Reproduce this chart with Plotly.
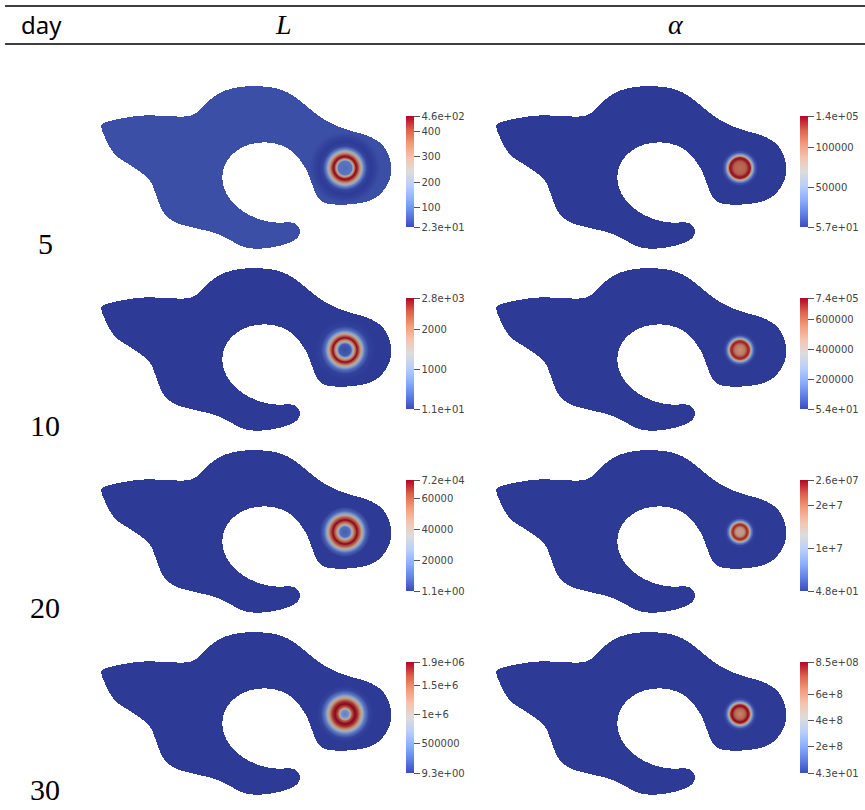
import numpy as np
import plotly.graph_objects as go

# ---------------- data ----------------
row_labels = ["5", "10", "20", "30"]
col_titles = ["<i>L</i>", "<i>α</i>"]

# colour ranges per panel (row-major: L, alpha)
vmins = [23, 57, 11, 54, 1.1, 48, 9.3, 43]
vmaxs = [460, 1.4e5, 2800, 7.4e5, 7.2e4, 2.6e7, 1.9e6, 8.5e8]
tick_vals = [
    [23, 100, 200, 300, 400, 460],
    [57, 50000, 100000, 1.4e5],
    [11, 1000, 2000, 2800],
    [54, 200000, 400000, 600000, 7.4e5],
    [1.1, 20000, 40000, 60000, 7.2e4],
    [48, 1e7, 2e7, 2.6e7],
    [9.3, 500000, 1e6, 1.5e6, 1.9e6],
    [43, 2e8, 4e8, 6e8, 8.5e8],
]
tick_text = [
    ["2.3e+01", "100", "200", "300", "400", "4.6e+02"],
    ["5.7e+01", "50000", "100000", "1.4e+05"],
    ["1.1e+01", "1000", "2000", "2.8e+03"],
    ["5.4e+01", "200000", "400000", "600000", "7.4e+05"],
    ["1.1e+00", "20000", "40000", "60000", "7.2e+04"],
    ["4.8e+01", "1e+7", "2e+7", "2.6e+07"],
    ["9.3e+00", "500000", "1e+6", "1.5e+6", "1.9e+06"],
    ["4.3e+01", "2e+8", "4e+8", "6e+8", "8.5e+08"],
]

# radial profiles (radius in px, fraction of colour range)
prof_r = [
    [0, 7, 9, 11, 13, 16, 19, 22, 26, 30, 36, 2000],
    [0, 6, 9, 10.5, 12, 13.5, 15.5, 18, 2000],
    [0, 6, 9, 12, 14, 17, 20, 24, 30, 2000],
    [0, 5, 8, 9.5, 11, 12.5, 14.5, 17, 2000],
    [0, 5, 9, 12, 15, 18, 21, 25, 2000],
    [0, 4, 7, 8.5, 10, 11.5, 13.5, 16, 2000],
    [0, 4, 7, 10, 13, 17, 20, 24, 28, 2000],
    [0, 5, 8, 9.5, 11, 12.5, 14.5, 17, 2000],
]
prof_t = [
    [0.15, 0.18, 0.7, 1.0, 0.9, 0.55, 0.2, 0.03, 0.0, 0.02, 0.06, 0.06],
    [0.78, 0.82, 0.97, 0.95, 0.6, 0.3, 0.08, 0.0, 0.0],
    [0.05, 0.1, 0.6, 1.0, 0.85, 0.45, 0.15, 0.02, 0.0, 0.0],
    [0.65, 0.75, 0.95, 0.9, 0.55, 0.25, 0.05, 0.0, 0.0],
    [0.1, 0.15, 0.75, 1.0, 0.8, 0.4, 0.12, 0.0, 0.0],
    [0.55, 0.65, 0.95, 0.85, 0.5, 0.2, 0.03, 0.0, 0.0],
    [0.2, 0.3, 0.85, 1.0, 0.9, 0.5, 0.2, 0.03, 0.0, 0.0],
    [0.7, 0.8, 1.0, 0.9, 0.55, 0.25, 0.05, 0.0, 0.0],
]

# domain outline (pixels within a panel)
outline_x = [100, 105, 123, 143, 167, 187, 197, 207, 220, 237, 253, 273, 290, 303, 317, 330, 347,
             367, 380, 388, 392, 390, 383, 373, 357, 337, 323, 317, 313, 307, 298, 287, 270, 253,
             240, 228, 222, 223, 230, 243, 260, 277, 290, 297, 301, 297, 287, 270, 253, 240, 227,
             213, 190, 173, 163, 157, 152, 145, 130, 117, 110, 105, 100]
outline_y = [125, 122, 118, 115, 116, 117, 113, 102, 92, 87, 86, 87, 93, 103, 115, 123, 130,
             135, 142, 152, 167, 180, 192, 200, 204, 205, 203, 197, 187, 170, 157, 147, 142, 143,
             148, 158, 172, 187, 200, 212, 220, 223, 222, 224, 232, 239, 244, 248, 249, 246, 238,
             232, 227, 222, 213, 198, 183, 175, 165, 157, 148, 138, 130]
ring_center = (345, 168)

# ---------------- helpers ----------------
cw = [(0.0, (58, 76, 192)), (0.125, (98, 130, 234)), (0.25, (141, 176, 254)),
      (0.375, (184, 208, 249)), (0.5, (221, 220, 219)), (0.625, (245, 196, 173)),
      (0.75, (244, 154, 123)), (0.875, (222, 96, 77)), (1.0, (180, 4, 38))]


def scale(f):
    return [[p, "rgb(%d,%d,%d)" % tuple(int(round(c * f)) for c in col)] for p, col in cw]


cs_bar = scale(1.0)
cs_field = scale(0.78)

W, H = 305, 175
OX, OY = 95, 80


def chaikin(x, y, n=2):
    x = np.asarray(x, float)
    y = np.asarray(y, float)
    for _ in range(n):
        x2, y2 = np.roll(x, -1), np.roll(y, -1)
        qx, qy = 0.75 * x + 0.25 * x2, 0.75 * y + 0.25 * y2
        rx, ry = 0.25 * x + 0.75 * x2, 0.25 * y + 0.75 * y2
        x = np.column_stack([qx, rx]).ravel()
        y = np.column_stack([qy, ry]).ravel()
    return x, y


px, py = chaikin(np.array(outline_x[:-1]) - OX, np.array(outline_y[:-1]) - OY, 3)
gx = np.arange(W) + 0.5
gy = np.arange(H) + 0.5
XX, YY = np.meshgrid(gx, gy)
inside = np.zeros(XX.shape, bool)
n = len(px)
for i in range(n):
    x1, y1 = px[i], py[i]
    x2, y2 = px[(i + 1) % n], py[(i + 1) % n]
    cond = (y1 > YY) != (y2 > YY)
    xint = x1 + (YY - y1) * (x2 - x1) / (y2 - y1 + 1e-12)
    inside ^= cond & (XX < xint)
RR = np.hypot(XX - (ring_center[0] - OX), YY - (ring_center[1] - OY))

fig = go.Figure()
FW, FH = 865, 810
for k in range(8):
    i, j = divmod(k, 2)
    left = OX + 395 * j
    top = OY + 182 * i
    ax = k + 1
    t = np.interp(RR, prof_r[k], prof_t[k])
    z = vmins[k] + t * (vmaxs[k] - vmins[k])
    z = np.where(inside, z, np.nan)
    xa = "x" if ax == 1 else "x%d" % ax
    ya = "y" if ax == 1 else "y%d" % ax
    fig.add_trace(go.Heatmap(x=gx, y=gy, z=z, zmin=vmins[k], zmax=vmaxs[k],
                             colorscale=cs_field, showscale=False, hoverinfo="skip",
                             xaxis=xa, yaxis=ya))
    cb_left = 406 if j == 0 else 800
    cb_top = 116 + 182 * i
    fig.add_trace(go.Scatter(
        x=[None], y=[None], mode="markers", xaxis=xa, yaxis=ya, showlegend=False,
        marker=dict(color=[vmins[k]], cmin=vmins[k], cmax=vmaxs[k], colorscale=cs_bar,
                    showscale=True,
                    colorbar=dict(x=cb_left / FW, xanchor="left", y=1 - cb_top / FH, yanchor="top",
                                  len=111, lenmode="pixels", thickness=8, thicknessmode="pixels",
                                  outlinewidth=0, ticks="outside", ticklen=6, tickwidth=1,
                                  tickcolor="#555", tickvals=tick_vals[k], ticktext=tick_text[k],
                                  tickfont=dict(size=10, color="#444", family="DejaVu Sans"),
                                  xpad=0, ypad=0))))
    sx = "xaxis" if ax == 1 else "xaxis%d" % ax
    sy = "yaxis" if ax == 1 else "yaxis%d" % ax
    fig.layout[sx] = dict(domain=[left / FW, (left + W) / FW], range=[0, W], visible=False,
                          anchor=ya, fixedrange=True)
    fig.layout[sy] = dict(domain=[1 - (top + H) / FH, 1 - top / FH], range=[H, 0], visible=False,
                          anchor=xa, fixedrange=True)

anns = [dict(text="day", x=41 / FW, y=1 - 24 / FH, font=dict(family="Noto Sans", size=24, color="black"))]
for txt, xc in zip(col_titles, [283, 676]):
    anns.append(dict(text=txt, x=xc / FW, y=1 - 24 / FH,
                     font=dict(family="Liberation Serif", size=28, color="black")))
for r, lab in enumerate(row_labels):
    anns.append(dict(text=lab, x=45 / FW, y=1 - (243 + 182 * r) / FH,
                     font=dict(family="Liberation Serif", size=30, color="black")))
for a in anns:
    a.update(xref="paper", yref="paper", showarrow=False, xanchor="center", yanchor="middle")

shapes = [dict(type="line", xref="paper", yref="paper", x0=5 / FW, x1=1, y0=1 - yy / FH, y1=1 - yy / FH,
               line=dict(color="black", width=1.3)) for yy in (6, 44)]

fig.update_layout(width=FW, height=FH, margin=dict(l=0, r=0, t=0, b=0),
                  paper_bgcolor="white", plot_bgcolor="white", annotations=anns, shapes=shapes,
                  showlegend=False)
fig.write_html("out.html", config={"displayModeBar": False},
               post_script="document.body.style.margin='0px';document.body.style.padding='0px';")
